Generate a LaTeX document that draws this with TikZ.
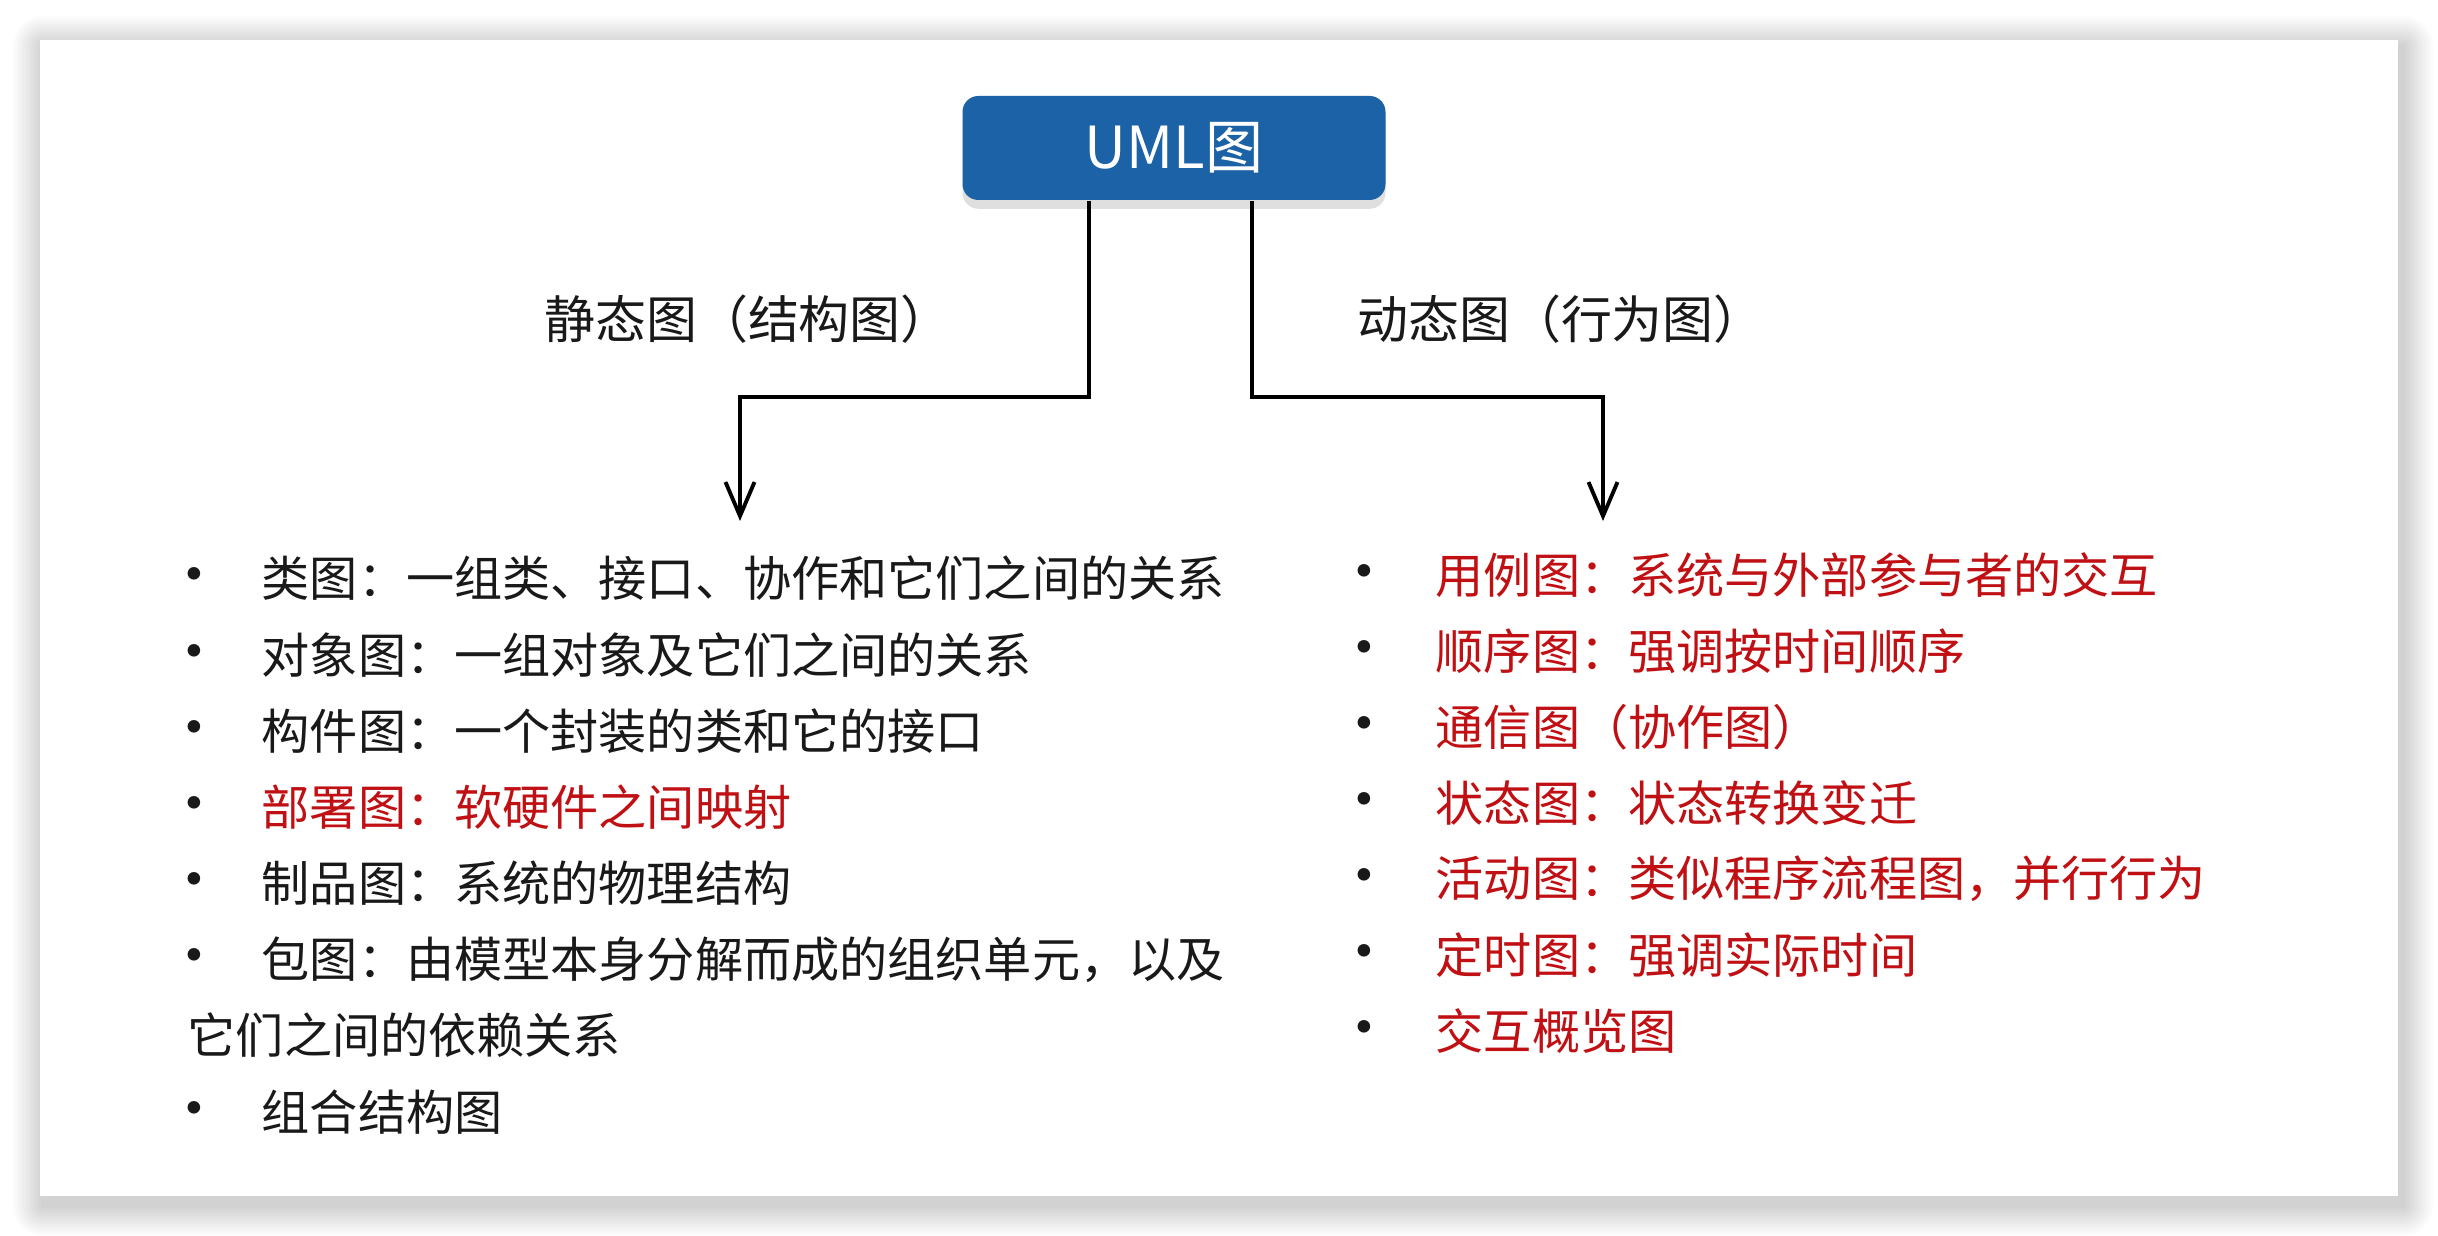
\documentclass[tikz,border=0pt]{standalone}
\usepackage{fontspec}
\setmainfont{Noto Sans CJK SC}
\usetikzlibrary{arrows.meta,shadows,calc,positioning}
\definecolor{umlblue}{RGB}{27,98,166}
\definecolor{itemred}{RGB}{192,16,20}
\definecolor{ink}{RGB}{25,25,25}
\tikzset{
  root/.style={fill=umlblue, rounded corners=4.5pt, minimum width=4.23cm, minimum height=1.04cm, text=white, font=\fontsize{16.5pt}{18pt}\selectfont, drop shadow={shadow xshift=0pt, shadow yshift=-2.5pt, opacity=0.25}},
  conn/.style={-{Straight Barb[length=3.4mm,width=2.9mm]}, line width=1.1pt, black},
  kind/.style={font=\fontsize{14.5pt}{17pt}\selectfont, text=ink},
  item/.style={anchor=west, inner sep=0pt, font=\fontsize{13.7pt}{16pt}\selectfont, text=ink},
  hot/.style={item, text=itemred},
  dot/.style={inner sep=0pt, yshift=-0.04cm, font=\fontsize{17pt}{18pt}\selectfont, text=ink}
}
\begin{document}
\begin{tikzpicture}
  \useasboundingbox (0,0) rectangle (24.38,12.36);
  % card with a soft shadow
  \foreach \s in {0.02,0.04,...,0.3}
    \fill[black,opacity=0.011,rounded corners=\s cm] ({0.43-\s},{0.30-\s}) rectangle ({24.03+\s},{11.90+\s});
  \fill[white] (0.40,0.40) rectangle (23.98,11.96);
  \node[root] (uml) at (11.74,10.88) {UML图};
  \node[kind] (static) at (7.48,9.17) {静态图（结构图）};
  \node[kind] (dynamic) at (15.61,9.17) {动态图（行为图）};
  \coordinate (lt) at (7.40,7.15);
  \coordinate (rt) at (16.03,7.15);
  \draw[conn] ($(uml.south)+(-0.85,0)$) -- ++(0,-1.96) -| (lt);
  \draw[conn] ($(uml.south)+(0.78,0)$) -- ++(0,-1.96) -| (rt);
  % static diagrams
  \foreach \r/\st/\txt in {1/item/类图：一组类、接口、协作和它们之间的关系, 2/item/对象图：一组对象及它们之间的关系, 3/item/构件图：一个封装的类和它的接口, 4/hot/部署图：软硬件之间映射, 5/item/制品图：系统的物理结构, 6/item/包图：由模型本身分解而成的组织单元，以及, 8/item/组合结构图}{
    \node[dot] (lb\r) at (1.94,{6.576-0.762*(\r-1)}) {•};
    \node[\st] (l\r) at (2.61,{6.576-0.762*(\r-1)}) {\txt};
  }
  \node[item] (l7) at (1.87,{6.576-0.762*6}) {它们之间的依赖关系};
  % dynamic diagrams
  \foreach \r/\txt in {1/用例图：系统与外部参与者的交互, 2/顺序图：强调按时间顺序, 3/通信图（协作图）, 4/状态图：状态转换变迁, 5/活动图：类似程序流程图，并行行为, 6/定时图：强调实际时间, 7/交互概览图}{
    \node[dot] (rb\r) at (13.64,{6.61-0.76*(\r-1)}) {•};
    \node[hot] (r\r) at (14.35,{6.61-0.76*(\r-1)}) {\txt};
  }
\end{tikzpicture}
\end{document}
